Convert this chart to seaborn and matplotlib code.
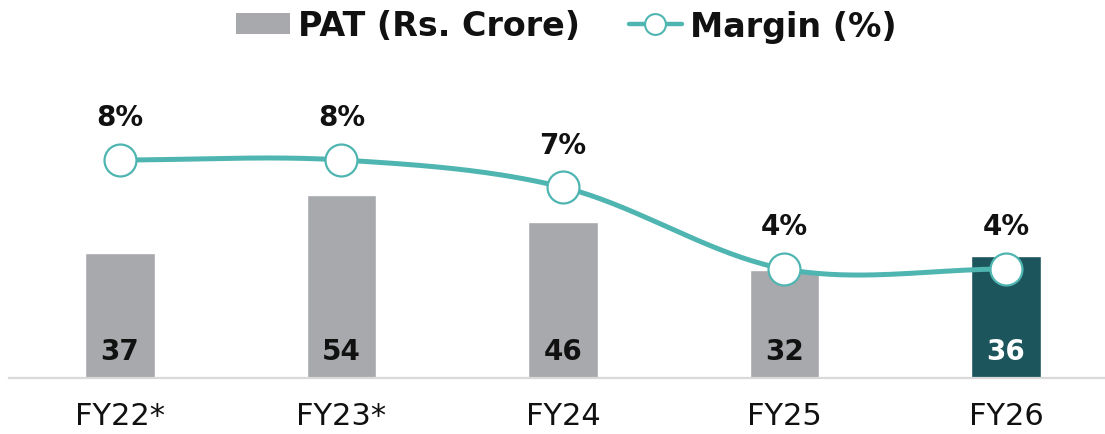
import numpy as np
import pandas as pd
import seaborn as sns
import matplotlib.pyplot as plt
from matplotlib.lines import Line2D
from matplotlib.patches import Patch

years = ["FY22*", "FY23*", "FY24", "FY25", "FY26"]
pat = [37, 54, 46, 32, 36]
margin = [8, 8, 7, 4, 4]
margin_labels = ["8%", "8%", "7%", "4%", "4%"]

grey = "#a7a9ac"
dark_teal = "#1d555c"
teal = "#4fb5b1"
bar_colors = [grey, grey, grey, grey, dark_teal]


def smooth(y, n=40):
    # catmull-rom style curve through the points (like a spreadsheet smoothed line)
    y = np.asarray(y, dtype=float)
    k = len(y)
    m = np.zeros(k)
    m[1:-1] = (y[2:] - y[:-2]) / 2
    xs, ys = [], []
    for i in range(k - 1):
        t = np.linspace(0, 1, n, endpoint=(i == k - 2))
        h00 = 2 * t**3 - 3 * t**2 + 1
        h10 = t**3 - 2 * t**2 + t
        h01 = -2 * t**3 + 3 * t**2
        h11 = t**3 - t**2
        xs.append(i + t)
        ys.append(h00 * y[i] + h10 * m[i] + h01 * y[i + 1] + h11 * m[i + 1])
    return np.concatenate(xs), np.concatenate(ys)


sns.set_theme(style="white")
plt.rcParams["font.family"] = ["DejaVu Sans"]

W, H = 1105, 435
fig = plt.figure(figsize=(W / 100, H / 100), dpi=100)

left_px, right_px = 9, 1105
bottom_px, top_px = 379, 90
ax = fig.add_axes([left_px / W, (H - bottom_px) / H,
                   (right_px - left_px) / W, (bottom_px - top_px) / H])

df = pd.DataFrame({"year": years, "pat": pat})
sns.barplot(data=df, x="year", y="pat", hue="year", palette=bar_colors,
            width=0.315, saturation=1, legend=False, ax=ax)

ax.set_xlim(-0.501, 4.447)
ax.set_ylim(0, (bottom_px - top_px) / 3.39)
ax.set_yticks([])
ax.set_xlabel("")
ax.set_ylabel("")
ax.set_xticks(range(len(years)))
ax.set_xticklabels(years, fontsize=22, color="#111111")
ax.tick_params(axis="x", length=0, pad=16.5)
for s in ["top", "left", "right"]:
    ax.spines[s].set_visible(False)
ax.spines["bottom"].set_color("#d9d9d9")
ax.spines["bottom"].set_linewidth(1.6)

for i, v in enumerate(pat):
    ax.annotate(str(v), (i, 0), xytext=(0, 14), textcoords="offset points",
                ha="center", va="baseline", fontsize=20, fontweight="bold",
                color="white" if i == len(pat) - 1 else "#111111")

ax2 = ax.twinx()
ax2.set_ylim(0, (bottom_px - top_px) / 27.25)
ax2.set_yticks([])
ax2.set_ylabel("")
for s in ax2.spines.values():
    s.set_visible(False)

sx, sy = smooth(margin)
sns.lineplot(x=sx, y=sy, color=teal, linewidth=3.6, ax=ax2, sort=False)
ax2.plot(range(len(margin)), margin, linestyle="none", marker="o", ms=23,
         mfc="white", mec=teal, mew=1.6, zorder=5)
for i, v in enumerate(margin):
    ax2.annotate(margin_labels[i], (i, v), xytext=(0, 25), textcoords="offset points",
                 ha="center", va="baseline", fontsize=20, fontweight="bold",
                 color="#111111")

handles = [
    Patch(facecolor=grey, edgecolor="none", label="PAT (Rs. Crore)"),
    Line2D([], [], color=teal, linewidth=3.2, marker="o", ms=15, mfc="white",
           mec=teal, mew=1.5, label="Margin (%)"),
]
fig.legend(handles=handles, loc="center", bbox_to_anchor=(0.5127, 1 - 27 / H),
           ncol=2, frameon=False, numpoints=1, labelcolor="#111111",
           prop={"size": 24, "weight": "bold"},
           handlelength=1.6, handleheight=0.58, handletextpad=0.24,
           columnspacing=1.47, borderpad=0)

fig.savefig("out.png", dpi=100)
